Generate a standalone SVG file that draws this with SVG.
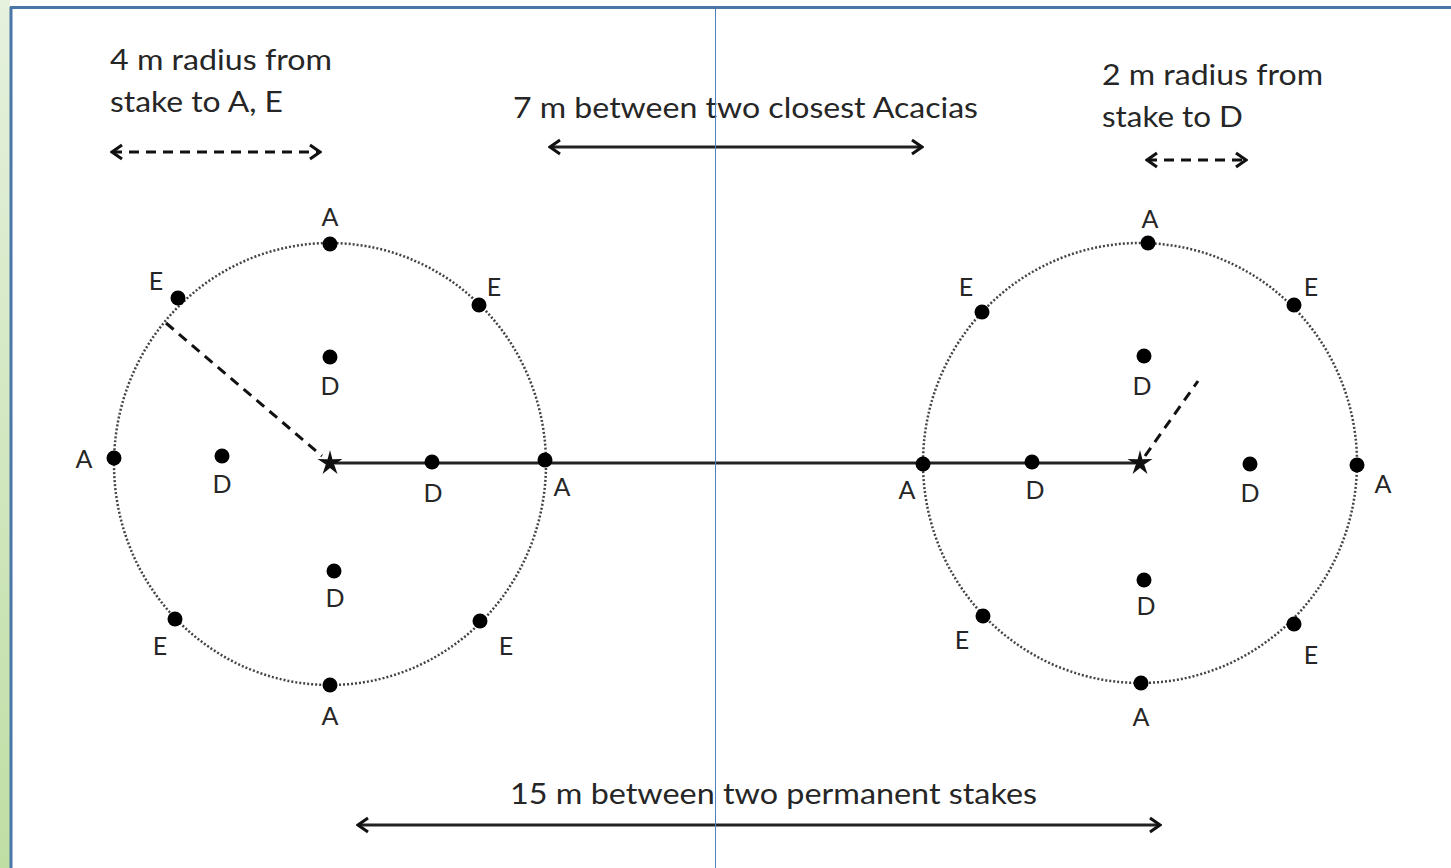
<svg xmlns="http://www.w3.org/2000/svg" width="1451" height="868" viewBox="0 0 1451 868">
<defs>
<linearGradient id="g" x1="0" y1="0" x2="0" y2="1"><stop offset="0" stop-color="#e6f1de"/><stop offset="1" stop-color="#bfdea4"/></linearGradient>
<marker id="ahs" viewBox="-12 -10 14 20" markerWidth="14" markerHeight="20" refX="0" refY="0" orient="auto-start-reverse" markerUnits="userSpaceOnUse">
<path d="M-10,-7 L0,0 L-10,7" fill="none" stroke="#111" stroke-width="3"/>
</marker>
<symbol id="star" viewBox="-14 -14 28 28" overflow="visible">
<path d="M0,-13 L2.4,-3.8 L12.5,-4 L4.2,1.6 L7.5,11 L0,5 L-7.5,11 L-4.2,1.6 L-12.5,-4 L-2.4,-3.8 Z" fill="#111"/>
</symbol>
</defs>
<style>
text{font-family:Lato,"Open Sans","Liberation Sans",sans-serif;fill:#262626}
.t{font-size:29px}
.l{font-size:25px;text-anchor:middle}
.dot{fill:#000}
.circ{fill:none;stroke:#444;stroke-width:2.5;stroke-dasharray:2 2}
.dash{fill:none;stroke:#111;stroke-width:3;stroke-dasharray:10 7}
.solid{fill:none;stroke:#222;stroke-width:3}
</style>
<rect width="1451" height="868" fill="#fff"/>
<rect x="0" y="0" width="10" height="868" fill="url(#g)"/>
<line x1="11" y1="7" x2="11" y2="868" stroke="#4a76a8" stroke-width="3"/>
<line x1="10" y1="7.5" x2="1451" y2="7.5" stroke="#4a76a8" stroke-width="3"/>

<g id="annotations">
<text class="t" x="110" y="70" textLength="222" lengthAdjust="spacingAndGlyphs">4 m radius from</text>
<text class="t" x="110" y="112" textLength="173" lengthAdjust="spacingAndGlyphs">stake to A, E</text>
<text class="t" x="513" y="118" textLength="465" lengthAdjust="spacingAndGlyphs">7 m between two closest Acacias</text>
<text class="t" x="1102" y="85" textLength="221" lengthAdjust="spacingAndGlyphs">2 m radius from</text>
<text class="t" x="1102" y="127" textLength="141" lengthAdjust="spacingAndGlyphs">stake to D</text>
<text class="t" x="510" y="804" textLength="527" lengthAdjust="spacingAndGlyphs">15 m between two permanent stakes</text>
</g>

<g id="connectors">
<line class="dash" x1="112" y1="152" x2="320" y2="152" stroke-dasharray="11 8" marker-start="url(#ahs)" marker-end="url(#ahs)"/>
<line class="dash" x1="1147" y1="160" x2="1246" y2="160" stroke-dasharray="10 8" marker-start="url(#ahs)" marker-end="url(#ahs)"/>
<line class="solid" x1="550" y1="147" x2="922" y2="147" marker-start="url(#ahs)" marker-end="url(#ahs)"/>
<line class="solid" x1="358" y1="825" x2="1160" y2="825" marker-start="url(#ahs)" marker-end="url(#ahs)"/>
<line class="solid" x1="335" y1="463" x2="1135" y2="463"/>
<line class="dash" x1="166" y1="323" x2="322" y2="456"/>
<line class="dash" x1="1145" y1="456" x2="1198" y2="381"/>
</g>

<line x1="715.5" y1="9" x2="715.5" y2="868" stroke="#4f7fc0" stroke-width="1"/>

<g id="left-plot">
<ellipse class="circ" cx="330" cy="464" rx="216" ry="221"/>
<use href="#star" x="316" y="449" width="28" height="28"/>
<circle class="dot" cx="330" cy="244" r="7.5"/><text class="l" x="330" y="226">A</text>
<circle class="dot" cx="178" cy="298" r="7.5"/><text class="l" x="156" y="290">E</text>
<circle class="dot" cx="479" cy="305" r="7.5"/><text class="l" x="494" y="296">E</text>
<circle class="dot" cx="330" cy="357" r="7.5"/><text class="l" x="330" y="395">D</text>
<circle class="dot" cx="114" cy="458" r="7.5"/><text class="l" x="84" y="468">A</text>
<circle class="dot" cx="222" cy="456" r="7.5"/><text class="l" x="222" y="493">D</text>
<circle class="dot" cx="432" cy="462" r="7.5"/><text class="l" x="433" y="502">D</text>
<circle class="dot" cx="545" cy="460" r="7.5"/><text class="l" x="562" y="496">A</text>
<circle class="dot" cx="334" cy="571" r="7.5"/><text class="l" x="335" y="607">D</text>
<circle class="dot" cx="175" cy="619" r="7.5"/><text class="l" x="160" y="655">E</text>
<circle class="dot" cx="480" cy="621" r="7.5"/><text class="l" x="506" y="655">E</text>
<circle class="dot" cx="330" cy="685" r="7.5"/><text class="l" x="330" y="725">A</text>
</g>

<g id="right-plot">
<ellipse class="circ" cx="1140" cy="463" rx="217" ry="220"/>
<use href="#star" x="1126" y="449" width="28" height="28"/>
<circle class="dot" cx="1148" cy="243" r="7.5"/><text class="l" x="1150" y="228">A</text>
<circle class="dot" cx="982" cy="312" r="7.5"/><text class="l" x="966" y="296">E</text>
<circle class="dot" cx="1294" cy="305" r="7.5"/><text class="l" x="1311" y="296">E</text>
<circle class="dot" cx="1144" cy="356" r="7.5"/><text class="l" x="1142" y="395">D</text>
<circle class="dot" cx="923" cy="464" r="7.5"/><text class="l" x="907" y="499">A</text>
<circle class="dot" cx="1032" cy="462" r="7.5"/><text class="l" x="1035" y="499">D</text>
<circle class="dot" cx="1250" cy="464" r="7.5"/><text class="l" x="1250" y="502">D</text>
<circle class="dot" cx="1357" cy="465" r="7.5"/><text class="l" x="1383" y="493">A</text>
<circle class="dot" cx="1144" cy="580" r="7.5"/><text class="l" x="1146" y="615">D</text>
<circle class="dot" cx="983" cy="616" r="7.5"/><text class="l" x="962" y="649">E</text>
<circle class="dot" cx="1294" cy="624" r="7.5"/><text class="l" x="1311" y="664">E</text>
<circle class="dot" cx="1141" cy="683" r="7.5"/><text class="l" x="1141" y="726">A</text>
</g>
</svg>
